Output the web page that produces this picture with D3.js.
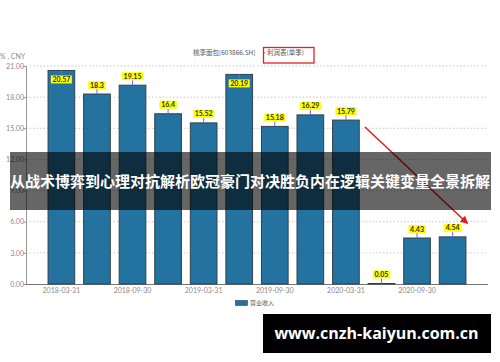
<!DOCTYPE html>
<html>
<head>
<meta charset="utf-8">
<script src="https://cdn.jsdelivr.net/npm/d3@7"></script>
<style>
  body { margin: 0; background: #fff; }
  svg { display: block; }
</style>
</head>
<body>
<svg id="chart" width="500" height="362"></svg>
<script>
// quarterly revenue, single quarter
let quarters = ["2018-03-31", "2018-06-30", "2018-09-30", "2018-12-31",
                "2019-03-31", "2019-06-30", "2019-09-30", "2019-12-31",
                "2020-03-31", "2020-06-30", "2020-09-30", "2020-12-31"];
let revenue = [20.57, 18.3, 19.15, 16.4, 15.52, 20.19, 15.18, 16.29, 15.79, 0.05, 4.43, 4.54];
let yTicks = [0, 3, 6, 9, 12, 15, 18, 21];
let xTickLabels = ["2018-03-31", "2018-09-30", "2019-03-31", "2019-09-30", "2020-03-31", "2020-09-30"];

let titleText = "桃李面包[603866.SH]";
let boxText = "利润表(单季)";
let unitText = "% , CNY";
let legendText = "营业收入";
let bannerText = "从战术博弈到心理对抗解析欧冠豪门对决胜负内在逻辑关键变量全景拆解";
let watermark = "www.cnzh-kaiyun.com.cn";

let svg = d3.select("#chart");
let numFont = "Lato, 'Liberation Sans', sans-serif";
let cjkFont = "'Noto Sans CJK SC', 'Noto Sans', sans-serif";

let x = d3.scaleBand().domain(quarters).range([26, 488]).paddingInner(0.25).paddingOuter(0.62);
let y = d3.scaleLinear().domain([0, 21]).range([284, 66]);

// grid lines
svg.append("g")
    .selectAll("line")
    .data(yTicks.filter(d => d > 0))
    .enter().append("line")
    .attr("x1", 26).attr("x2", 488)
    .attr("y1", d => y(d)).attr("y2", d => y(d))
    .attr("stroke", "#c8c8c8")
    .attr("stroke-dasharray", "1.5,2");

// y axis
let yAxis = svg.append("g")
    .attr("transform", "translate(26,0)")
    .call(d3.axisLeft(y).tickValues(yTicks).tickFormat(d3.format(".2f")).tickSize(3));
yAxis.select(".domain").attr("stroke", "#999");
yAxis.selectAll(".tick line").attr("stroke", "#999");
yAxis.selectAll("text")
    .attr("fill", "#8a8a8a")
    .style("font-family", numFont)
    .style("font-size", "7px")
    .attr("x", -2);

// x axis
let xAxis = svg.append("g")
    .attr("transform", "translate(0,284)")
    .call(d3.axisBottom(x).tickValues(xTickLabels).tickSize(0).tickPadding(4));
xAxis.select(".domain").attr("stroke", "#777").attr("d", "M26,0.5H488");
xAxis.selectAll("text")
    .attr("fill", "#8a8a8a")
    .style("font-family", numFont)
    .style("font-size", "7px");

// bars
svg.append("g")
    .selectAll("rect")
    .data(revenue)
    .enter().append("rect")
    .attr("x", (d, i) => x(quarters[i]))
    .attr("y", d => y(d))
    .attr("width", x.bandwidth())
    .attr("height", d => y(0) - y(d))
    .attr("fill", "#23729f")
    .attr("stroke", "#33414c")
    .attr("stroke-width", 1);

// value labels
let labels = svg.append("g")
    .selectAll("g")
    .data(revenue)
    .enter().append("g")
    .attr("transform", (d, i) => "translate(" + (x(quarters[i]) + x.bandwidth() / 2) + "," + y(d) + ")");

labels.append("line")
    .attr("x1", 0).attr("x2", 0)
    .attr("y1", 0)
    .attr("y2", d => d > 20 ? 5 : -5)
    .attr("stroke", "#6a6aff")
    .attr("stroke-width", 1);

labels.each(function(d) {
    let g = d3.select(this);
    let txt = String(d);
    let w = txt.length * 3.6 + 3;
    let top = d > 20 ? 5 : -13;
    g.append("rect")
        .attr("x", -w / 2).attr("y", top)
        .attr("width", w).attr("height", 8)
        .attr("fill", "#ffff00");
    g.append("text")
        .attr("x", 0).attr("y", top + 6.5)
        .attr("text-anchor", "middle")
        .attr("fill", "#333")
        .style("font-family", numFont)
        .style("font-size", "7px")
        .style("font-weight", "bold")
        .text(txt);
});

// header
svg.append("text")
    .attr("x", 193).attr("y", 55)
    .attr("fill", "#555")
    .style("font-family", cjkFont)
    .style("font-size", "6.5px")
    .text(titleText);
svg.append("text")
    .attr("x", 261.5).attr("y", 55)
    .attr("fill", "#999")
    .style("font-family", cjkFont)
    .style("font-size", "6.5px")
    .text("·");
svg.append("text")
    .attr("x", 267).attr("y", 55)
    .attr("fill", "#555")
    .style("font-family", cjkFont)
    .style("font-size", "6.5px")
    .text(boxText);
svg.append("rect")
    .attr("x", 263.5).attr("y", 47.5)
    .attr("width", 50.5).attr("height", 15.5)
    .attr("fill", "none")
    .attr("stroke", "#e82020")
    .attr("stroke-width", 1.3);

svg.append("text")
    .attr("x", 0).attr("y", 59)
    .attr("fill", "#8a8a8a")
    .style("font-family", numFont)
    .style("font-size", "7px")
    .text(unitText);

// legend
svg.append("rect")
    .attr("x", 235.5).attr("y", 300.5)
    .attr("width", 12).attr("height", 5)
    .attr("fill", "#23729f")
    .attr("stroke", "#33414c")
    .attr("stroke-width", 0.6);
svg.append("text")
    .attr("x", 250).attr("y", 305)
    .attr("fill", "#555")
    .style("font-family", cjkFont)
    .style("font-size", "6px")
    .text(legendText);

// red arrow
let defs = svg.append("defs");
defs.append("marker")
    .attr("id", "arrow")
    .attr("viewBox", "0 0 10 10")
    .attr("refX", 8).attr("refY", 5)
    .attr("markerWidth", 5).attr("markerHeight", 5)
    .attr("orient", "auto")
    .append("path")
    .attr("d", "M0,0L10,5L0,10z")
    .attr("fill", "#e0201c");
svg.append("line")
    .attr("x1", 365).attr("y1", 127)
    .attr("x2", 467).attr("y2", 223)
    .attr("stroke", "#e0201c")
    .attr("stroke-width", 1.6)
    .attr("marker-end", "url(#arrow)");

// overlay banner
svg.append("rect")
    .attr("x", 10).attr("y", 152)
    .attr("width", 481).attr("height", 58)
    .attr("fill", "rgba(0,0,0,0.6)");
svg.append("text")
    .attr("x", 250).attr("y", 187)
    .attr("text-anchor", "middle")
    .attr("fill", "#fff")
    .style("font-family", cjkFont)
    .style("font-size", "15px")
    .style("font-weight", "bold")
    .attr("textLength", 480)
    .attr("lengthAdjust", "spacingAndGlyphs")
    .text(bannerText);

// watermark box
svg.append("rect")
    .attr("x", 263).attr("y", 314)
    .attr("width", 228).attr("height", 39)
    .attr("fill", "#000");
svg.append("text")
    .attr("x", 376.5).attr("y", 339)
    .attr("text-anchor", "middle")
    .attr("fill", "#fff")
    .style("font-family", "'Open Sans', 'DejaVu Sans', sans-serif")
    .style("font-size", "16px")
    .style("font-weight", "bold")
    .text(watermark);
</script>
</body>
</html>
